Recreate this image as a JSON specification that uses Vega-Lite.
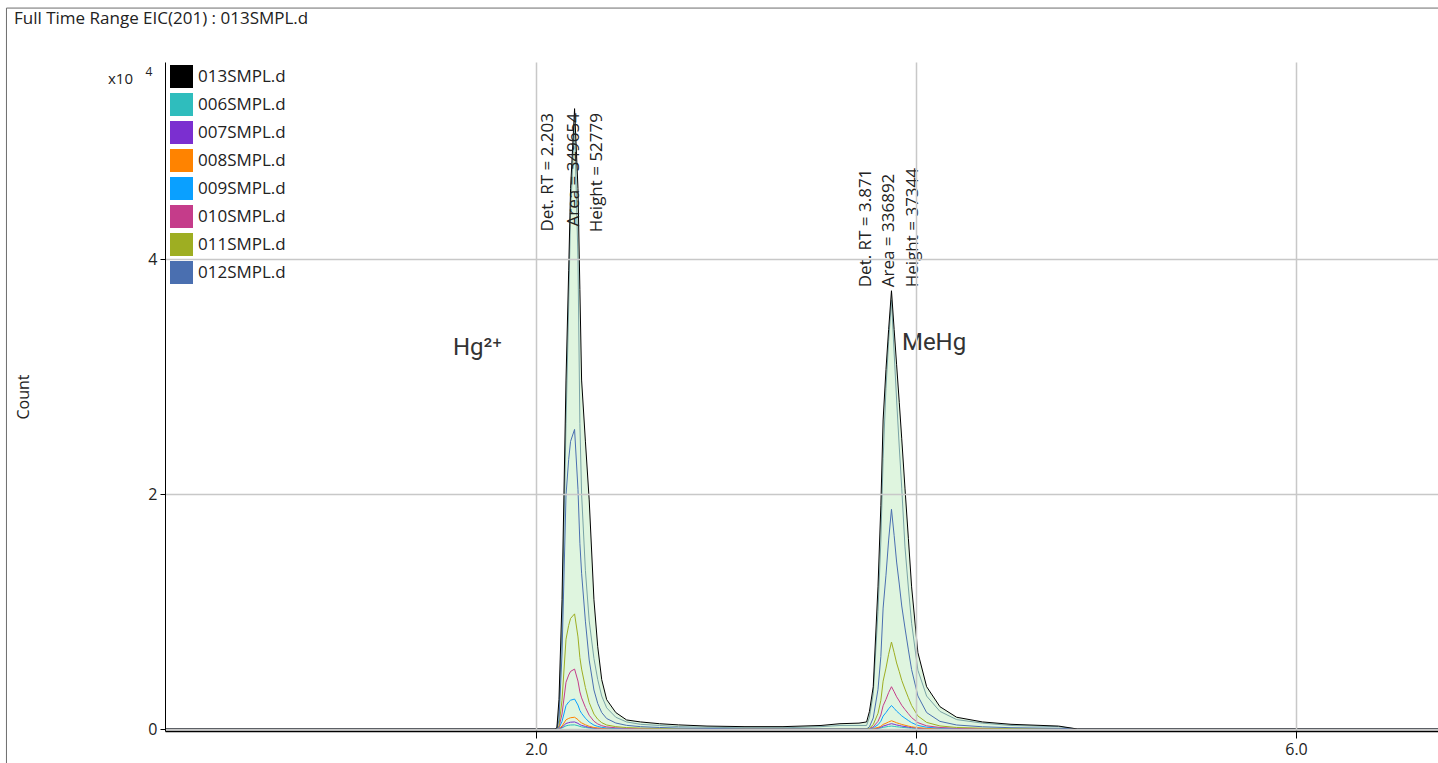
{
  "$schema": "https://vega.github.io/schema/vega-lite/v6.json",
  "width": 1273,
  "height": 669,
  "autosize": {"type": "none"},
  "padding": {"left": 165, "top": 62, "right": 0, "bottom": 32},
  "background": "white",
  "config": {
    "view": {"stroke": null},
    "font": "Open Sans",
    "axis": {
      "labelFont": "Open Sans", "labelFontSize": 16, "labelColor": "#222",
      "domainColor": "#000", "tickColor": "#000", "gridColor": "#c8c8c8", "gridWidth": 1.5,
      "titleFont": "Open Sans", "titleFontWeight": "normal", "titleColor": "#222", "titleFontSize": 16
    }
  },
  "title": {
    "text": "Full Time Range EIC(201) : 013SMPL.d",
    "anchor": "start", "frame": "group", "dx": -151, "offset": -37, "baseline": "bottom",
    "font": "Open Sans", "fontSize": 17, "fontWeight": "normal", "color": "#222"
  },
  "datasets": {
    "trace": [
      {"t": 0.05, "013SMPL": 0, "006SMPL": 0, "007SMPL": 0, "008SMPL": 0, "009SMPL": 0, "010SMPL": 0, "011SMPL": 0, "012SMPL": 0, "inner": 0},
      {"t": 1.0, "013SMPL": 0, "006SMPL": 0, "007SMPL": 0, "008SMPL": 0, "009SMPL": 0, "010SMPL": 0, "011SMPL": 0, "012SMPL": 0, "inner": 0},
      {"t": 2.0, "013SMPL": 0, "006SMPL": 0, "007SMPL": 0, "008SMPL": 0, "009SMPL": 0, "010SMPL": 0, "011SMPL": 0, "012SMPL": 0, "inner": 0},
      {"t": 2.10, "013SMPL": 0, "006SMPL": 0, "007SMPL": 0, "008SMPL": 0, "009SMPL": 0, "010SMPL": 0, "011SMPL": 0, "012SMPL": 0, "inner": 0},
      {"t": 2.11, "013SMPL": 0.01, "006SMPL": 0, "007SMPL": 0, "008SMPL": 0, "009SMPL": 0, "010SMPL": 0, "011SMPL": 0, "012SMPL": 0, "inner": 0},
      {"t": 2.121, "013SMPL": 0.25, "006SMPL": 0.001, "007SMPL": 0.002, "008SMPL": 0.003, "009SMPL": 0.008, "010SMPL": 0.015, "011SMPL": 0.029, "012SMPL": 0.077, "inner": 0.15},
      {"t": 2.137, "013SMPL": 1.1, "006SMPL": 0.009, "007SMPL": 0.015, "008SMPL": 0.025, "009SMPL": 0.064, "010SMPL": 0.128, "011SMPL": 0.245, "012SMPL": 0.638, "inner": 0.85},
      {"t": 2.158, "013SMPL": 2.97, "006SMPL": 0.027, "007SMPL": 0.047, "008SMPL": 0.078, "009SMPL": 0.199, "010SMPL": 0.398, "011SMPL": 0.764, "012SMPL": 1.989, "inner": 2.6},
      {"t": 2.172, "013SMPL": 3.9, "006SMPL": 0.032, "007SMPL": 0.054, "008SMPL": 0.09, "009SMPL": 0.23, "010SMPL": 0.459, "011SMPL": 0.882, "012SMPL": 2.295, "inner": 3.6},
      {"t": 2.182, "013SMPL": 4.6, "006SMPL": 0.034, "007SMPL": 0.058, "008SMPL": 0.096, "009SMPL": 0.245, "010SMPL": 0.49, "011SMPL": 0.941, "012SMPL": 2.448, "inner": 4.4},
      {"t": 2.203, "013SMPL": 5.28, "006SMPL": 0.035, "007SMPL": 0.06, "008SMPL": 0.1, "009SMPL": 0.255, "010SMPL": 0.51, "011SMPL": 0.98, "012SMPL": 2.55, "inner": 5.15},
      {"t": 2.221, "013SMPL": 4.6, "006SMPL": 0.028, "007SMPL": 0.048, "008SMPL": 0.08, "009SMPL": 0.204, "010SMPL": 0.408, "011SMPL": 0.784, "012SMPL": 2.04, "inner": 4.0},
      {"t": 2.231, "013SMPL": 3.74, "006SMPL": 0.022, "007SMPL": 0.037, "008SMPL": 0.062, "009SMPL": 0.158, "010SMPL": 0.316, "011SMPL": 0.608, "012SMPL": 1.581, "inner": 2.6},
      {"t": 2.24, "013SMPL": 2.97, "006SMPL": 0.018, "007SMPL": 0.031, "008SMPL": 0.052, "009SMPL": 0.133, "010SMPL": 0.265, "011SMPL": 0.51, "012SMPL": 1.326, "inner": 2.0},
      {"t": 2.26, "013SMPL": 2.45, "006SMPL": 0.013, "007SMPL": 0.022, "008SMPL": 0.036, "009SMPL": 0.092, "010SMPL": 0.184, "011SMPL": 0.353, "012SMPL": 0.918, "inner": 1.35},
      {"t": 2.28, "013SMPL": 1.95, "006SMPL": 0.008, "007SMPL": 0.014, "008SMPL": 0.023, "009SMPL": 0.059, "010SMPL": 0.117, "011SMPL": 0.225, "012SMPL": 0.587, "inner": 0.92},
      {"t": 2.305, "013SMPL": 1.1, "006SMPL": 0.005, "007SMPL": 0.008, "008SMPL": 0.013, "009SMPL": 0.033, "010SMPL": 0.066, "011SMPL": 0.127, "012SMPL": 0.332, "inner": 0.6},
      {"t": 2.325, "013SMPL": 0.7, "006SMPL": 0.003, "007SMPL": 0.005, "008SMPL": 0.009, "009SMPL": 0.022, "010SMPL": 0.043, "011SMPL": 0.083, "012SMPL": 0.217, "inner": 0.42},
      {"t": 2.346, "013SMPL": 0.42, "006SMPL": 0.002, "007SMPL": 0.003, "008SMPL": 0.006, "009SMPL": 0.014, "010SMPL": 0.028, "011SMPL": 0.054, "012SMPL": 0.14, "inner": 0.28},
      {"t": 2.372, "013SMPL": 0.25, "006SMPL": 0.001, "007SMPL": 0.002, "008SMPL": 0.004, "009SMPL": 0.009, "010SMPL": 0.018, "011SMPL": 0.034, "012SMPL": 0.089, "inner": 0.18},
      {"t": 2.42, "013SMPL": 0.14, "006SMPL": 0.001, "007SMPL": 0.001, "008SMPL": 0.002, "009SMPL": 0.005, "010SMPL": 0.01, "011SMPL": 0.02, "012SMPL": 0.051, "inner": 0.1},
      {"t": 2.477, "013SMPL": 0.077, "006SMPL": 0, "007SMPL": 0.001, "008SMPL": 0.001, "009SMPL": 0.003, "010SMPL": 0.006, "011SMPL": 0.012, "012SMPL": 0.031, "inner": 0.06},
      {"t": 2.55, "013SMPL": 0.06, "006SMPL": 0, "007SMPL": 0, "008SMPL": 0.001, "009SMPL": 0.002, "010SMPL": 0.004, "011SMPL": 0.008, "012SMPL": 0.02, "inner": 0.04},
      {"t": 2.65, "013SMPL": 0.045, "006SMPL": 0, "007SMPL": 0, "008SMPL": 0, "009SMPL": 0.001, "010SMPL": 0.003, "011SMPL": 0.005, "012SMPL": 0.013, "inner": 0.03},
      {"t": 2.75, "013SMPL": 0.035, "006SMPL": 0, "007SMPL": 0, "008SMPL": 0, "009SMPL": 0.001, "010SMPL": 0.002, "011SMPL": 0.003, "012SMPL": 0.008, "inner": 0.02},
      {"t": 2.9, "013SMPL": 0.025, "006SMPL": 0, "007SMPL": 0, "008SMPL": 0, "009SMPL": 0, "010SMPL": 0.001, "011SMPL": 0.002, "012SMPL": 0.005, "inner": 0.015},
      {"t": 3.1, "013SMPL": 0.02, "006SMPL": 0, "007SMPL": 0, "008SMPL": 0, "009SMPL": 0, "010SMPL": 0, "011SMPL": 0, "012SMPL": 0, "inner": 0.01},
      {"t": 3.3, "013SMPL": 0.02, "006SMPL": 0, "007SMPL": 0, "008SMPL": 0, "009SMPL": 0, "010SMPL": 0, "011SMPL": 0, "012SMPL": 0, "inner": 0.01},
      {"t": 3.5, "013SMPL": 0.03, "006SMPL": 0, "007SMPL": 0, "008SMPL": 0, "009SMPL": 0, "010SMPL": 0, "011SMPL": 0, "012SMPL": 0, "inner": 0.02},
      {"t": 3.6, "013SMPL": 0.045, "006SMPL": 0, "007SMPL": 0, "008SMPL": 0, "009SMPL": 0, "010SMPL": 0, "011SMPL": 0, "012SMPL": 0, "inner": 0.03},
      {"t": 3.7, "013SMPL": 0.05, "006SMPL": 0, "007SMPL": 0, "008SMPL": 0, "009SMPL": 0, "010SMPL": 0, "011SMPL": 0, "012SMPL": 0, "inner": 0.03},
      {"t": 3.74, "013SMPL": 0.06, "006SMPL": 0, "007SMPL": 0, "008SMPL": 0, "009SMPL": 0, "010SMPL": 0, "011SMPL": 0, "012SMPL": 0, "inner": 0.03},
      {"t": 3.755, "013SMPL": 0.15, "006SMPL": 0, "007SMPL": 0, "008SMPL": 0.001, "009SMPL": 0.002, "010SMPL": 0.004, "011SMPL": 0.007, "012SMPL": 0.019, "inner": 0.1},
      {"t": 3.775, "013SMPL": 0.36, "006SMPL": 0.001, "007SMPL": 0.002, "008SMPL": 0.004, "009SMPL": 0.01, "010SMPL": 0.018, "011SMPL": 0.037, "012SMPL": 0.094, "inner": 0.3},
      {"t": 3.80, "013SMPL": 1.21, "006SMPL": 0.005, "007SMPL": 0.008, "008SMPL": 0.013, "009SMPL": 0.036, "010SMPL": 0.065, "011SMPL": 0.133, "012SMPL": 0.337, "inner": 1.0},
      {"t": 3.815, "013SMPL": 1.9, "006SMPL": 0.008, "007SMPL": 0.015, "008SMPL": 0.023, "009SMPL": 0.066, "010SMPL": 0.119, "011SMPL": 0.244, "012SMPL": 0.617, "inner": 1.6},
      {"t": 3.827, "013SMPL": 2.63, "006SMPL": 0.014, "007SMPL": 0.025, "008SMPL": 0.039, "009SMPL": 0.11, "010SMPL": 0.198, "011SMPL": 0.407, "012SMPL": 1.029, "inner": 2.3},
      {"t": 3.842, "013SMPL": 3.06, "006SMPL": 0.018, "007SMPL": 0.032, "008SMPL": 0.049, "009SMPL": 0.14, "010SMPL": 0.252, "011SMPL": 0.518, "012SMPL": 1.309, "inner": 2.9},
      {"t": 3.856, "013SMPL": 3.4, "006SMPL": 0.022, "007SMPL": 0.039, "008SMPL": 0.06, "009SMPL": 0.172, "010SMPL": 0.31, "011SMPL": 0.636, "012SMPL": 1.608, "inner": 3.3},
      {"t": 3.871, "013SMPL": 3.73, "006SMPL": 0.025, "007SMPL": 0.045, "008SMPL": 0.07, "009SMPL": 0.2, "010SMPL": 0.36, "011SMPL": 0.74, "012SMPL": 1.87, "inner": 3.65},
      {"t": 3.885, "013SMPL": 3.4, "006SMPL": 0.022, "007SMPL": 0.04, "008SMPL": 0.062, "009SMPL": 0.176, "010SMPL": 0.317, "011SMPL": 0.651, "012SMPL": 1.646, "inner": 3.2},
      {"t": 3.898, "013SMPL": 3.1, "006SMPL": 0.019, "007SMPL": 0.034, "008SMPL": 0.053, "009SMPL": 0.152, "010SMPL": 0.274, "011SMPL": 0.562, "012SMPL": 1.421, "inner": 2.8},
      {"t": 3.912, "013SMPL": 2.78, "006SMPL": 0.017, "007SMPL": 0.03, "008SMPL": 0.046, "009SMPL": 0.132, "010SMPL": 0.238, "011SMPL": 0.488, "012SMPL": 1.234, "inner": 2.4},
      {"t": 3.925, "013SMPL": 2.47, "006SMPL": 0.014, "007SMPL": 0.025, "008SMPL": 0.039, "009SMPL": 0.112, "010SMPL": 0.202, "011SMPL": 0.414, "012SMPL": 1.047, "inner": 2.05},
      {"t": 3.942, "013SMPL": 2.05, "006SMPL": 0.012, "007SMPL": 0.021, "008SMPL": 0.032, "009SMPL": 0.092, "010SMPL": 0.166, "011SMPL": 0.34, "012SMPL": 0.86, "inner": 1.55},
      {"t": 3.96, "013SMPL": 1.62, "006SMPL": 0.009, "007SMPL": 0.016, "008SMPL": 0.025, "009SMPL": 0.072, "010SMPL": 0.13, "011SMPL": 0.266, "012SMPL": 0.673, "inner": 1.2},
      {"t": 3.977, "013SMPL": 1.21, "006SMPL": 0.007, "007SMPL": 0.012, "008SMPL": 0.019, "009SMPL": 0.054, "010SMPL": 0.097, "011SMPL": 0.2, "012SMPL": 0.505, "inner": 0.9},
      {"t": 4.01, "013SMPL": 0.65, "006SMPL": 0.004, "007SMPL": 0.007, "008SMPL": 0.011, "009SMPL": 0.03, "010SMPL": 0.054, "011SMPL": 0.111, "012SMPL": 0.281, "inner": 0.5},
      {"t": 4.056, "013SMPL": 0.36, "006SMPL": 0.002, "007SMPL": 0.003, "008SMPL": 0.005, "009SMPL": 0.015, "010SMPL": 0.027, "011SMPL": 0.056, "012SMPL": 0.14, "inner": 0.28},
      {"t": 4.126, "013SMPL": 0.19, "006SMPL": 0.001, "007SMPL": 0.002, "008SMPL": 0.002, "009SMPL": 0.007, "010SMPL": 0.013, "011SMPL": 0.026, "012SMPL": 0.065, "inner": 0.15},
      {"t": 4.214, "013SMPL": 0.1, "006SMPL": 0, "007SMPL": 0.001, "008SMPL": 0.001, "009SMPL": 0.004, "010SMPL": 0.006, "011SMPL": 0.013, "012SMPL": 0.034, "inner": 0.08},
      {"t": 4.35, "013SMPL": 0.06, "006SMPL": 0, "007SMPL": 0, "008SMPL": 0.001, "009SMPL": 0.002, "010SMPL": 0.004, "011SMPL": 0.007, "012SMPL": 0.019, "inner": 0.05},
      {"t": 4.5, "013SMPL": 0.04, "006SMPL": 0, "007SMPL": 0, "008SMPL": 0, "009SMPL": 0.001, "010SMPL": 0.002, "011SMPL": 0.004, "012SMPL": 0.011, "inner": 0.03},
      {"t": 4.75, "013SMPL": 0.025, "006SMPL": 0, "007SMPL": 0, "008SMPL": 0, "009SMPL": 0.001, "010SMPL": 0.001, "011SMPL": 0.002, "012SMPL": 0.006, "inner": 0.02},
      {"t": 4.85, "013SMPL": 0, "006SMPL": 0, "007SMPL": 0, "008SMPL": 0, "009SMPL": 0, "010SMPL": 0, "011SMPL": 0, "012SMPL": 0, "inner": 0},
      {"t": 5.5, "013SMPL": 0, "006SMPL": 0, "007SMPL": 0, "008SMPL": 0, "009SMPL": 0, "010SMPL": 0, "011SMPL": 0, "012SMPL": 0, "inner": 0},
      {"t": 6.2, "013SMPL": 0, "006SMPL": 0, "007SMPL": 0, "008SMPL": 0, "009SMPL": 0, "010SMPL": 0, "011SMPL": 0, "012SMPL": 0, "inner": 0},
      {"t": 6.75, "013SMPL": 0, "006SMPL": 0, "007SMPL": 0, "008SMPL": 0, "009SMPL": 0, "010SMPL": 0, "011SMPL": 0, "012SMPL": 0, "inner": 0}
    ],
    "ann": [
      {"t": 2.063, "c": 5.243, "label": "Det. RT = 2.203", "peak": "Hg"},
      {"t": 2.2, "c": 5.243, "label": "Area = 349654", "peak": "Hg"},
      {"t": 2.321, "c": 5.243, "label": "Height = 52779", "peak": "Hg"},
      {"t": 3.737, "c": 3.76, "label": "Det. RT = 3.871", "peak": "MeHg"},
      {"t": 3.858, "c": 3.76, "label": "Area = 336892", "peak": "MeHg"},
      {"t": 3.984, "c": 3.76, "label": "Height = 37344", "peak": "MeHg"}
    ],
    "names": [
      {"t": 1.563, "c": 3.24, "label": "Hg²⁺"},
      {"t": 3.926, "c": 3.285, "label": "MeHg"}
    ],
    "samples": [
      {"series": "013SMPL", "t": 0.05, "c": 0},
      {"series": "006SMPL", "t": 0.05, "c": 0},
      {"series": "007SMPL", "t": 0.05, "c": 0},
      {"series": "008SMPL", "t": 0.05, "c": 0},
      {"series": "009SMPL", "t": 0.05, "c": 0},
      {"series": "010SMPL", "t": 0.05, "c": 0},
      {"series": "011SMPL", "t": 0.05, "c": 0},
      {"series": "012SMPL", "t": 0.05, "c": 0}
    ]
  },
  "layer": [
    {
      "data": {"name": "trace"},
      "mark": {"type": "area", "color": "#dff5df", "opacity": 1},
      "encoding": {
        "x": {"field": "t", "type": "quantitative", "scale": {"domain": [0.0474, 6.7474], "nice": false, "zero": false},
              "axis": {"values": [2, 4, 6], "format": ".1f", "title": null, "grid": true, "tickSize": 7, "labelPadding": 3, "zindex": 1, "domainWidth": 1.5}},
        "y": {"field": "013SMPL", "type": "quantitative", "scale": {"domain": [-0.017, 5.677], "nice": false, "zero": false},
              "axis": {"values": [0, 2, 4], "format": "d", "title": "Count", "titleX": -134, "grid": true, "tickSize": 5, "labelPadding": 3, "zindex": 1}}
      }
    },
    {
      "data": {"name": "trace"},
      "mark": {"type": "line", "color": "#79a3a6", "strokeWidth": 1},
      "encoding": {
        "x": {"field": "t", "type": "quantitative", "scale": {"domain": [0.0474, 6.7474], "nice": false, "zero": false}},
        "y": {"field": "inner", "type": "quantitative", "scale": {"domain": [-0.017, 5.677], "nice": false, "zero": false}}
      }
    },
    {
      "data": {"name": "trace"},
      "transform": [{"fold": ["006SMPL", "007SMPL", "008SMPL", "009SMPL", "010SMPL", "011SMPL", "012SMPL"], "as": ["series", "c"]}],
      "mark": {"type": "line", "strokeWidth": 1},
      "encoding": {
        "x": {"field": "t", "type": "quantitative", "scale": {"domain": [0.0474, 6.7474], "nice": false, "zero": false}},
        "y": {"field": "c", "type": "quantitative", "scale": {"domain": [-0.017, 5.677], "nice": false, "zero": false}},
        "stroke": {"field": "series", "type": "nominal",
                  "scale": {"domain": ["006SMPL", "007SMPL", "008SMPL", "009SMPL", "010SMPL", "011SMPL", "012SMPL"],
                            "range": ["#2fbdbd", "#7b2fd0", "#ff8300", "#0aa0ff", "#c53c8a", "#9eae22", "#4a6fb0"]},
                  "legend": null}
      }
    },
    {
      "data": {"name": "trace"},
      "mark": {"type": "line", "color": "#000000", "strokeWidth": 1},
      "encoding": {
        "x": {"field": "t", "type": "quantitative", "scale": {"domain": [0.0474, 6.7474], "nice": false, "zero": false}},
        "y": {"field": "013SMPL", "type": "quantitative", "scale": {"domain": [-0.017, 5.677], "nice": false, "zero": false}}
      }
    },
    {
      "data": {"name": "samples"},
      "mark": {"type": "square", "size": 0, "opacity": 1},
      "encoding": {
        "x": {"field": "t", "type": "quantitative", "scale": {"domain": [0.0474, 6.7474], "nice": false, "zero": false}},
        "y": {"field": "c", "type": "quantitative", "scale": {"domain": [-0.017, 5.677], "nice": false, "zero": false}},
        "fill": {"field": "series", "type": "nominal",
                  "scale": {"domain": ["013SMPL", "006SMPL", "007SMPL", "008SMPL", "009SMPL", "010SMPL", "011SMPL", "012SMPL"],
                            "range": ["#000000", "#2fbdbd", "#7b2fd0", "#ff8300", "#0aa0ff", "#c53c8a", "#9eae22", "#4a6fb0"]},
                  "legend": {"orient": "none", "legendX": 5, "legendY": 3, "title": null, "padding": 0,
                             "symbolType": "square", "symbolSize": 529, "symbolStrokeWidth": 0, "symbolOpacity": 1,
                             "rowPadding": 5, "labelOffset": 5, "labelFont": "Open Sans", "labelFontSize": 17, "labelColor": "#222",
                             "labelExpr": "datum.label + '.d'"}}
      }
    },
    {
      "data": {"name": "ann"},
      "transform": [{"filter": "datum.peak == 'Hg'"}],
      "mark": {"type": "text", "angle": 270, "align": "right", "baseline": "middle", "font": "Open Sans", "fontSize": 17, "color": "#222"},
      "encoding": {
        "x": {"field": "t", "type": "quantitative", "scale": {"domain": [0.0474, 6.7474], "nice": false, "zero": false}},
        "y": {"field": "c", "type": "quantitative", "scale": {"domain": [-0.017, 5.677], "nice": false, "zero": false}},
        "text": {"field": "label"}
      }
    },
    {
      "data": {"name": "ann"},
      "transform": [{"filter": "datum.peak == 'MeHg'"}],
      "mark": {"type": "text", "angle": 270, "align": "left", "baseline": "middle", "font": "Open Sans", "fontSize": 17, "color": "#222"},
      "encoding": {
        "x": {"field": "t", "type": "quantitative", "scale": {"domain": [0.0474, 6.7474], "nice": false, "zero": false}},
        "y": {"field": "c", "type": "quantitative", "scale": {"domain": [-0.017, 5.677], "nice": false, "zero": false}},
        "text": {"field": "label"}
      }
    },
    {
      "data": {"name": "names"},
      "mark": {"type": "text", "align": "left", "baseline": "middle", "font": "Roboto", "fontSize": 24, "color": "#333"},
      "encoding": {
        "x": {"field": "t", "type": "quantitative", "scale": {"domain": [0.0474, 6.7474], "nice": false, "zero": false}},
        "y": {"field": "c", "type": "quantitative", "scale": {"domain": [-0.017, 5.677], "nice": false, "zero": false}},
        "text": {"field": "label"}
      }
    },
    {
      "data": {"values": [{}]},
      "mark": {"type": "text", "text": "x10", "align": "right", "baseline": "middle", "dx": -32, "font": "Open Sans", "fontSize": 15, "color": "#222", "clip": false},
      "encoding": {
        "x": {"datum": 0.0474, "type": "quantitative", "scale": {"domain": [0.0474, 6.7474], "nice": false, "zero": false}},
        "y": {"datum": 5.532, "type": "quantitative", "scale": {"domain": [-0.017, 5.677], "nice": false, "zero": false}}
      }
    },
    {
      "data": {"values": [{}]},
      "mark": {"type": "text", "text": "4", "align": "center", "baseline": "middle", "dx": -16, "font": "Open Sans", "fontSize": 12, "color": "#222", "clip": false},
      "encoding": {
        "x": {"datum": 0.0474, "type": "quantitative", "scale": {"domain": [0.0474, 6.7474], "nice": false, "zero": false}},
        "y": {"datum": 5.59, "type": "quantitative", "scale": {"domain": [-0.017, 5.677], "nice": false, "zero": false}}
      }
    },
    {
      "data": {"values": [{}]},
      "mark": {"type": "rule", "color": "#6d6d6d", "strokeWidth": 1, "clip": false},
      "encoding": {
        "x": {"datum": -0.787, "type": "quantitative", "scale": {"domain": [0.0474, 6.7474], "nice": false, "zero": false}},
        "y": {"datum": 6.136, "type": "quantitative", "scale": {"domain": [-0.017, 5.677], "nice": false, "zero": false}},
        "y2": {"datum": -0.3}
      }
    },
    {
      "data": {"values": [{}]},
      "mark": {"type": "rule", "color": "#6d6d6d", "strokeWidth": 1, "clip": false},
      "encoding": {
        "x": {"datum": -0.787, "type": "quantitative", "scale": {"domain": [0.0474, 6.7474], "nice": false, "zero": false}},
        "x2": {"datum": 6.7474},
        "y": {"datum": 6.136, "type": "quantitative", "scale": {"domain": [-0.017, 5.677], "nice": false, "zero": false}}
      }
    }
  ]
}
